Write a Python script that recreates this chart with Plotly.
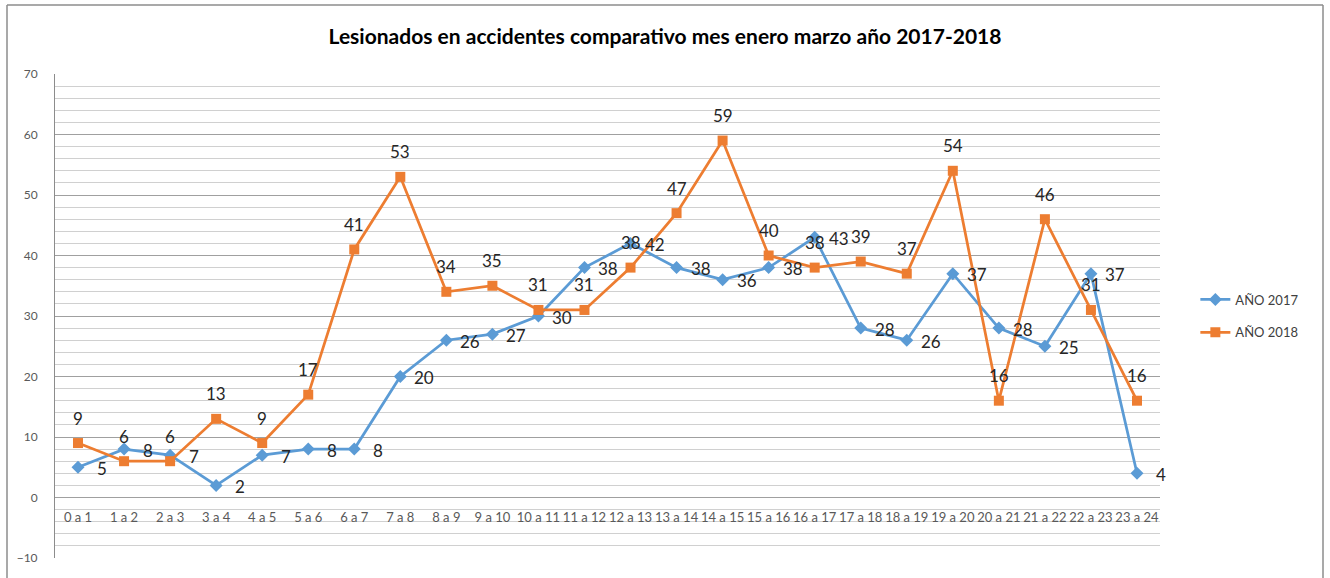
import plotly.graph_objects as go

categories = ["0 a 1", "1 a 2", "2 a 3", "3 a 4", "4 a 5", "5 a 6", "6 a 7", "7 a 8",
              "8 a 9", "9 a 10", "10 a 11", "11 a 12", "12 a 13", "13 a 14", "14 a 15",
              "15 a 16", "16 a 17", "17 a 18", "18 a 19", "19 a 20", "20 a 21", "21 a 22",
              "22 a 23", "23 a 24"]
anio_2017 = [5, 8, 7, 2, 7, 8, 8, 20, 26, 27, 30, 38, 42, 38, 36, 38, 43, 28, 26, 37, 28, 25, 37, 4]
anio_2018 = [9, 6, 6, 13, 9, 17, 41, 53, 34, 35, 31, 31, 38, 47, 59, 40, 38, 39, 37, 54, 16, 46, 31, 16]
series_names = ["AÑO 2017", "AÑO 2018"]
title_text = "Lesionados en accidentes comparativo mes enero marzo año 2017-2018"
y_min, y_max = -10, 70

W, H = 1330, 578
ML, MR, MT, MB = 55, 170, 74, 20
PW, PH = W - ML - MR, H - MT - MB

BLUE = "#5B9BD5"
ORANGE = "#ED7D31"
FONT = "Lato"
LABEL_FONT = dict(family=FONT, size=17, color="#262626")

fig = go.Figure()
fig.add_trace(go.Scatter(
    x=categories, y=anio_2017, name=series_names[0], mode="lines+markers",
    line=dict(color=BLUE, width=2.75),
    marker=dict(symbol="diamond", size=10, color=BLUE),
    legendgroup="a", cliponaxis=False,
))
fig.add_trace(go.Scatter(
    x=categories, y=anio_2018, name=series_names[1], mode="lines+markers",
    line=dict(color=ORANGE, width=2.75),
    marker=dict(symbol="square", size=10, color=ORANGE),
    legendgroup="b", cliponaxis=False,
))

# data labels: 2017 to the right of the point, 2018 above the point
for c, v in zip(categories, anio_2017):
    fig.add_annotation(x=c, y=v, xref="x", yref="y", text=str(v), showarrow=False,
                       xshift=24, yshift=-1, font=LABEL_FONT)
for c, v in zip(categories, anio_2018):
    fig.add_annotation(x=c, y=v, xref="x", yref="y", text=str(v), showarrow=False,
                       yshift=25, font=LABEL_FONT)

zero_pos = (0 - y_min) / (y_max - y_min)

fig.update_layout(
    width=W, height=H,
    margin=dict(l=ML, r=MR, t=MT, b=MB, autoexpand=False),
    paper_bgcolor="white", plot_bgcolor="white",
    title=dict(text="<b>" + title_text + "</b>", x=0.5, xref="container", xanchor="center",
               y=1 - 37 / H, yref="container", yanchor="middle",
               font=dict(family=FONT, size=21, color="#000000")),
    font=dict(family=FONT, size=12, color="#595959"),
    showlegend=True,
    legend=dict(x=1.032, xanchor="left", y=0.5, yanchor="middle",
                font=dict(family=FONT, size=13, color="#404040"),
                tracegroupgap=13, bgcolor="rgba(0,0,0,0)"),
    xaxis=dict(
        type="category", range=[-0.5, len(categories) - 0.5],
        anchor="free", position=zero_pos, side="bottom",
        showgrid=False, zeroline=False, showline=False,
        ticks="", tickangle=0, ticklabelstandoff=10,
        tickfont=dict(family=FONT, size=13, color="#595959"),
    ),
    yaxis=dict(
        range=[y_min, y_max], dtick=10, tick0=0,
        showgrid=True, gridcolor="#a0a0a0", gridwidth=1,
        zeroline=False, showline=True, linecolor="#8c8c8c", linewidth=1,
        ticks="", ticklabelstandoff=14,
        tickfont=dict(family=FONT, size=12, color="#595959"),
        minor=dict(dtick=2, showgrid=True, gridcolor="#d0d0d0", gridwidth=1),
    ),
)

# outer chart frame (left, top, right edges)
def px_to_paper_x(px):
    return (px - ML) / PW

def px_to_paper_y(py):
    return (H - MB - py) / PH

x0f, x1f = px_to_paper_x(7), px_to_paper_x(1323)
y_top, y_bot = px_to_paper_y(5), px_to_paper_y(H + 5)
for (xa, ya, xb, yb) in [(x0f, y_bot, x0f, y_top), (x0f, y_top, x1f, y_top), (x1f, y_top, x1f, y_bot)]:
    fig.add_shape(type="line", xref="paper", yref="paper", x0=xa, y0=ya, x1=xb, y1=yb,
                  line=dict(color="#8c8c8c", width=1.5), layer="above")

fig.write_html("out.html", config={"displayModeBar": False},
               post_script="document.body.style.margin='0';document.body.style.overflow='hidden';")
